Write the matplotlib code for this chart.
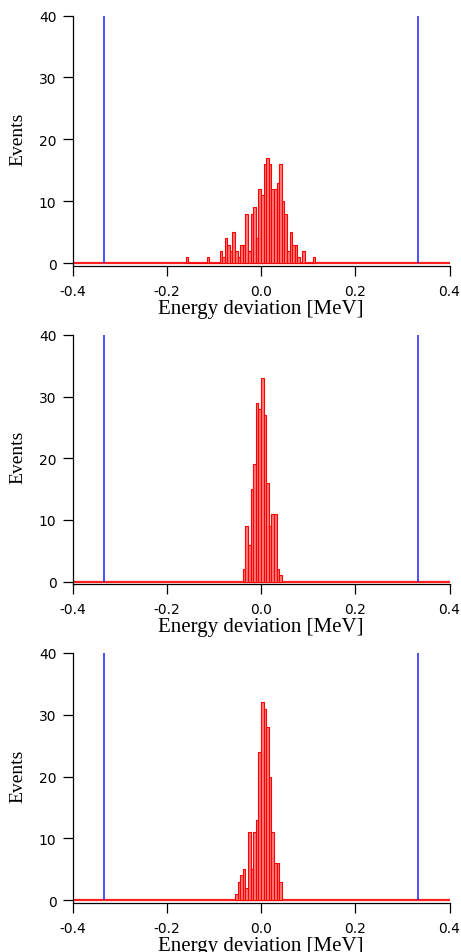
import numpy as np
import matplotlib
matplotlib.use('Agg')
import matplotlib.pyplot as plt

# ── Data ──────────────────────────────────────────────────────────────────────
bin_width = 0.0055          # MeV
window = [-0.333, 0.333]     # blue acceptance lines

# panel 1: first bin index and counts per bin
p1_first = -29
p1_counts = [1, 0, 0, 0, 0, 0, 0, 0, 1, 0, 0, 0, 0, 2, 1, 4, 3, 2, 5, 2,
             1, 3, 3, 8, 2, 8, 9, 4, 12, 11, 16, 17, 16, 12, 12, 13, 16, 10, 8, 2,
             5, 3, 3, 1, 0, 2, 0, 0, 0, 1]

# panel 2
p2_first = -7
p2_counts = [2, 9, 6, 15, 19, 29, 28, 33, 27, 16, 9, 11, 11, 2, 1]

# panel 3
p3_first = -10
p3_counts = [1, 3, 4, 5, 2, 11, 5, 11, 13, 24, 32, 31, 28, 20, 11, 6, 6, 3]

panels = [(p1_first, p1_counts), (p2_first, p2_counts), (p3_first, p3_counts)]

x_ticks = [-0.4, -0.2, 0.0, 0.2, 0.4]
x_ticklabels = ['-0.4', '-0.2', '0.0', '0.2', '0.4']
y_ticks = [0, 10, 20, 30, 40]

# ── Figure ────────────────────────────────────────────────────────────────────
W, H = 461, 953
fig = plt.figure(figsize=(W / 100, H / 100), dpi=100)

# axes boxes in pixels: (left, top, right, bottom)
boxes = [(72.5, 16.5, 449.5, 266.7),
         (72.5, 336.0, 449.5, 585.0),
         (72.5, 654.0, 449.5, 903.5)]

for (first, counts), (l, t, r, b) in zip(panels, boxes):
    ax = fig.add_axes([l / W, 1 - b / H, (r - l) / W, (b - t) / H])
    counts = np.array(counts)
    edges = (first + np.arange(len(counts))) * bin_width

    ax.axhline(0, color='#ff2020', lw=1.6, zorder=2)
    ax.bar(edges, counts, width=bin_width, align='edge',
           facecolor='#ff7a7a', edgecolor='#ff0000', linewidth=0.8, zorder=3)
    ax.vlines(window, 0, 40, color='#2020ff', lw=1.1, zorder=4)

    ax.set_xlim(-0.4, 0.4)
    ax.set_ylim(-0.4, 40)
    ax.set_xticks(x_ticks)
    ax.set_xticklabels(x_ticklabels)
    ax.set_yticks(y_ticks)

    for s in ['top', 'right']:
        ax.spines[s].set_visible(False)
    for s in ['left', 'bottom']:
        ax.spines[s].set_linewidth(0.9)
    ax.tick_params(axis='x', direction='out', length=7.5, width=0.9, pad=5.5,
                   labelsize=10)
    ax.tick_params(axis='y', direction='out', length=7.5, width=0.9, pad=4,
                   labelsize=10)

    ax.annotate('Energy deviation [MeV]', xy=(0.5, 0), xycoords='axes fraction',
                xytext=(0, -34), textcoords='offset points',
                ha='center', va='baseline', family='Liberation Serif',
                fontsize=15, annotation_clip=False)
    ax.annotate('Events', xy=(0, 0.5), xycoords='axes fraction',
                xytext=(-39, 2), textcoords='offset points',
                ha='center', va='center', rotation=90,
                family='Liberation Serif', fontsize=14, annotation_clip=False)

fig.savefig('out.png', dpi=100)
